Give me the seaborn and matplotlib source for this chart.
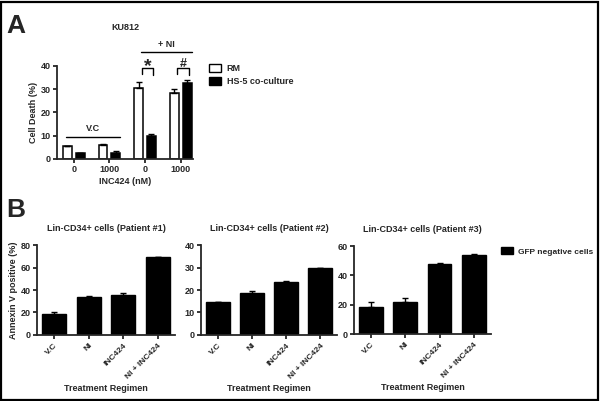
"""
plot.py — KU812 cell death + patient Annexin V panels
"""

import numpy as np
import pandas as pd
import matplotlib
matplotlib.use("Agg")
import matplotlib.pyplot as plt
from matplotlib.patches import Patch, Rectangle
import seaborn as sns

# Panel A data
A_DOSES = ["0", "1000", "0", "1000"]
A_GROUPS = ["g0", "g1", "g2", "g3"]
A_RM = [5.5, 6.0, 30.5, 28.5]
A_RM_ERR = [0.3, 0.5, 2.8, 1.6]
A_HS5 = [2.5, 2.6, 10.0, 32.5]
A_HS5_ERR = [0.2, 1.0, 0.8, 1.3]

# Panel B data
B_REGIMEN = ["V.C", "NI", "INC424", "NI + INC424"]
B_TITLES = ["Lin-CD34+ cells (Patient #1)",
            "Lin-CD34+ cells (Patient #2)",
            "Lin-CD34+ cells (Patient #3)"]
B_VALUES = [[19.0, 33.5, 35.5, 69.0],
            [14.5, 18.5, 23.5, 29.7],
            [18.5, 22.0, 48.0, 54.0]]
B_ERR = [[1.6, 1.3, 2.0, 0.3],
         [0.3, 1.0, 0.5, 0.2],
         [3.0, 2.5, 0.3, 0.5]]
B_YMAX = [80, 40, 60]
B_YTICKS = [[0, 20, 40, 60, 80], [0, 10, 20, 30, 40], [0, 20, 40, 60]]

sns.set_style("ticks")
plt.rcParams["font.family"] = ["Liberation Sans", "DejaVu Sans"]
plt.rcParams["font.weight"] = "bold"
plt.rcParams["axes.linewidth"] = 1.3
plt.rcParams["xtick.major.width"] = 1.3
plt.rcParams["ytick.major.width"] = 1.3
plt.rcParams["xtick.major.size"] = 3
plt.rcParams["ytick.major.size"] = 3

FS = 6.5

fig = plt.figure(figsize=(6.0, 4.01), dpi=100)
fig.patch.set_facecolor("white")
fig.patches.append(Rectangle((0.002, 0.003), 0.995, 0.993, transform=fig.transFigure,
                             fill=False, lw=1.6, ec="black"))


def style_axes(ax, xsize=FS, xpad=1.5):
    sns.despine(ax=ax)
    ax.tick_params(axis="y", labelsize=FS, pad=1.5)
    ax.tick_params(axis="x", labelsize=xsize, pad=xpad)
    for lab in ax.get_xticklabels() + ax.get_yticklabels():
        lab.set_fontweight("bold")


# ---- Panel A ----
axA = fig.add_axes([0.095, 0.6035, 0.227, 0.232])
dfA = pd.DataFrame({
    "group": A_GROUPS * 2,
    "cond": ["RM"] * 4 + ["HS-5 co-culture"] * 4,
    "value": A_RM + A_HS5,
})
sns.barplot(data=dfA, x="group", y="value", hue="cond", ax=axA,
            palette=["white", "black"], edgecolor="black", linewidth=1.1,
            width=0.72, gap=0.3, errorbar=None, legend=False)
for cont, err in zip(axA.containers, [A_RM_ERR, A_HS5_ERR]):
    xs = [p.get_x() + p.get_width() / 2 for p in cont.patches]
    hs = [p.get_height() for p in cont.patches]
    axA.errorbar(xs, hs, yerr=[np.zeros(len(err)), err], fmt="none",
                 ecolor="black", elinewidth=1.0, capsize=2, capthick=1.0)
axA.set_xlim(-0.47, 3.35)
axA.set_ylim(0, 40)
axA.set_yticks([0, 10, 20, 30, 40])
axA.set_xticks(range(4))
axA.set_xticklabels(A_DOSES)
axA.set_xlabel("INC424 (nM)", fontsize=FS, fontweight="bold", labelpad=2)
axA.set_ylabel("Cell Death (%)", fontsize=FS, fontweight="bold", labelpad=2)
axA.set_title("KU812", fontsize=FS, fontweight="bold", pad=26)
style_axes(axA)

# group annotations (V.C / + NI) and significance brackets
rm_bars = axA.containers[0].patches
hs_bars = axA.containers[1].patches
kw = dict(color="black", lw=1.0, clip_on=False)
vc_l = rm_bars[0].get_x() + 0.1
vc_r = hs_bars[1].get_x() + hs_bars[1].get_width()
axA.plot([vc_l, vc_r], [9.5, 9.5], **kw)
axA.text((vc_l + vc_r) / 2, 11.0, "V.C",
         ha="center", va="bottom", fontsize=FS, fontweight="bold")
ni_l = rm_bars[2].get_x() + 0.18
ni_r = hs_bars[3].get_x() + hs_bars[3].get_width()
axA.plot([ni_l, ni_r], [46, 46], **kw)
axA.text((ni_l + ni_r) / 2, 47.5, "+ NI", ha="center", va="bottom",
         fontsize=FS, fontweight="bold")
for i, mark, fsz, yb in [(2, "*", 14, 37.6), (3, "#", 9, 39.6)]:
    xl = rm_bars[i].get_x() + rm_bars[i].get_width() / 2 + 0.08
    xr = hs_bars[i].get_x() + hs_bars[i].get_width() / 2 + 0.05
    yl = max(A_RM[i] + A_RM_ERR[i] + 1.0, 36.5)
    yr = max(A_HS5[i] + A_HS5_ERR[i] + 1.0, 36.0)
    axA.plot([xl, xl, xr, xr], [yl, 39, 39, yr], **kw)
    axA.text((xl + xr) / 2, yb, mark, ha="center", va="baseline",
             fontsize=fsz, fontweight="bold", clip_on=False)

fig.legend(handles=[Patch(fc="white", ec="black", lw=1.0, label="RM"),
                    Patch(fc="black", ec="black", lw=1.0, label="HS-5 co-culture")],
           loc="upper left", bbox_to_anchor=(0.348, 0.84), frameon=False,
           borderpad=0, borderaxespad=0,
           handlelength=1.4, handleheight=0.9, handletextpad=0.6,
           labelspacing=0.45, prop={"weight": "bold", "size": FS})

fig.text(0.011, 0.918, "A", fontsize=19, fontweight="bold", va="baseline")
fig.text(0.011, 0.459, "B", fontsize=19, fontweight="bold", va="baseline")

# ---- Panel B ----
b_pos = [[0.0617, 0.1646, 0.23, 0.2244],
         [0.335, 0.1646, 0.227, 0.2244],
         [0.59, 0.167, 0.228, 0.2195]]
for k in range(3):
    ax = fig.add_axes(b_pos[k])
    dfB = pd.DataFrame({"regimen": B_REGIMEN, "value": B_VALUES[k]})
    sns.barplot(data=dfB, x="regimen", y="value", ax=ax, color="black",
                edgecolor="black", width=0.7, errorbar=None, saturation=1)
    xs = [p.get_x() + p.get_width() / 2 for p in ax.patches]
    ax.errorbar(xs, B_VALUES[k], yerr=[np.zeros(4), B_ERR[k]], fmt="none",
                ecolor="black", elinewidth=1.0, capsize=2.5, capthick=1.0)
    ax.set_xlim(-0.5, 3.5)
    ax.set_ylim(0, B_YMAX[k])
    ax.set_yticks(B_YTICKS[k])
    ax.set_xticks(range(4))
    ax.set_xticklabels(B_REGIMEN, rotation=45, ha="right", rotation_mode="anchor")
    ax.set_xlabel("Treatment Regimen", fontsize=FS, fontweight="bold", labelpad=3)
    ax.set_ylabel("Annexin V positive (%)" if k == 0 else "", fontsize=FS,
                  fontweight="bold", labelpad=2)
    ax.set_title(B_TITLES[k], fontsize=FS, fontweight="bold", pad=10)
    style_axes(ax, xsize=6.0, xpad=2)

fig.legend(handles=[Patch(fc="black", ec="black", label="GFP negative cells")],
           loc="upper left", bbox_to_anchor=(0.835, 0.383), frameon=False,
           borderpad=0, borderaxespad=0,
           handlelength=1.4, handleheight=0.9, handletextpad=0.6,
           prop={"weight": "bold", "size": 6.0})

fig.savefig("out.png", dpi=100)
